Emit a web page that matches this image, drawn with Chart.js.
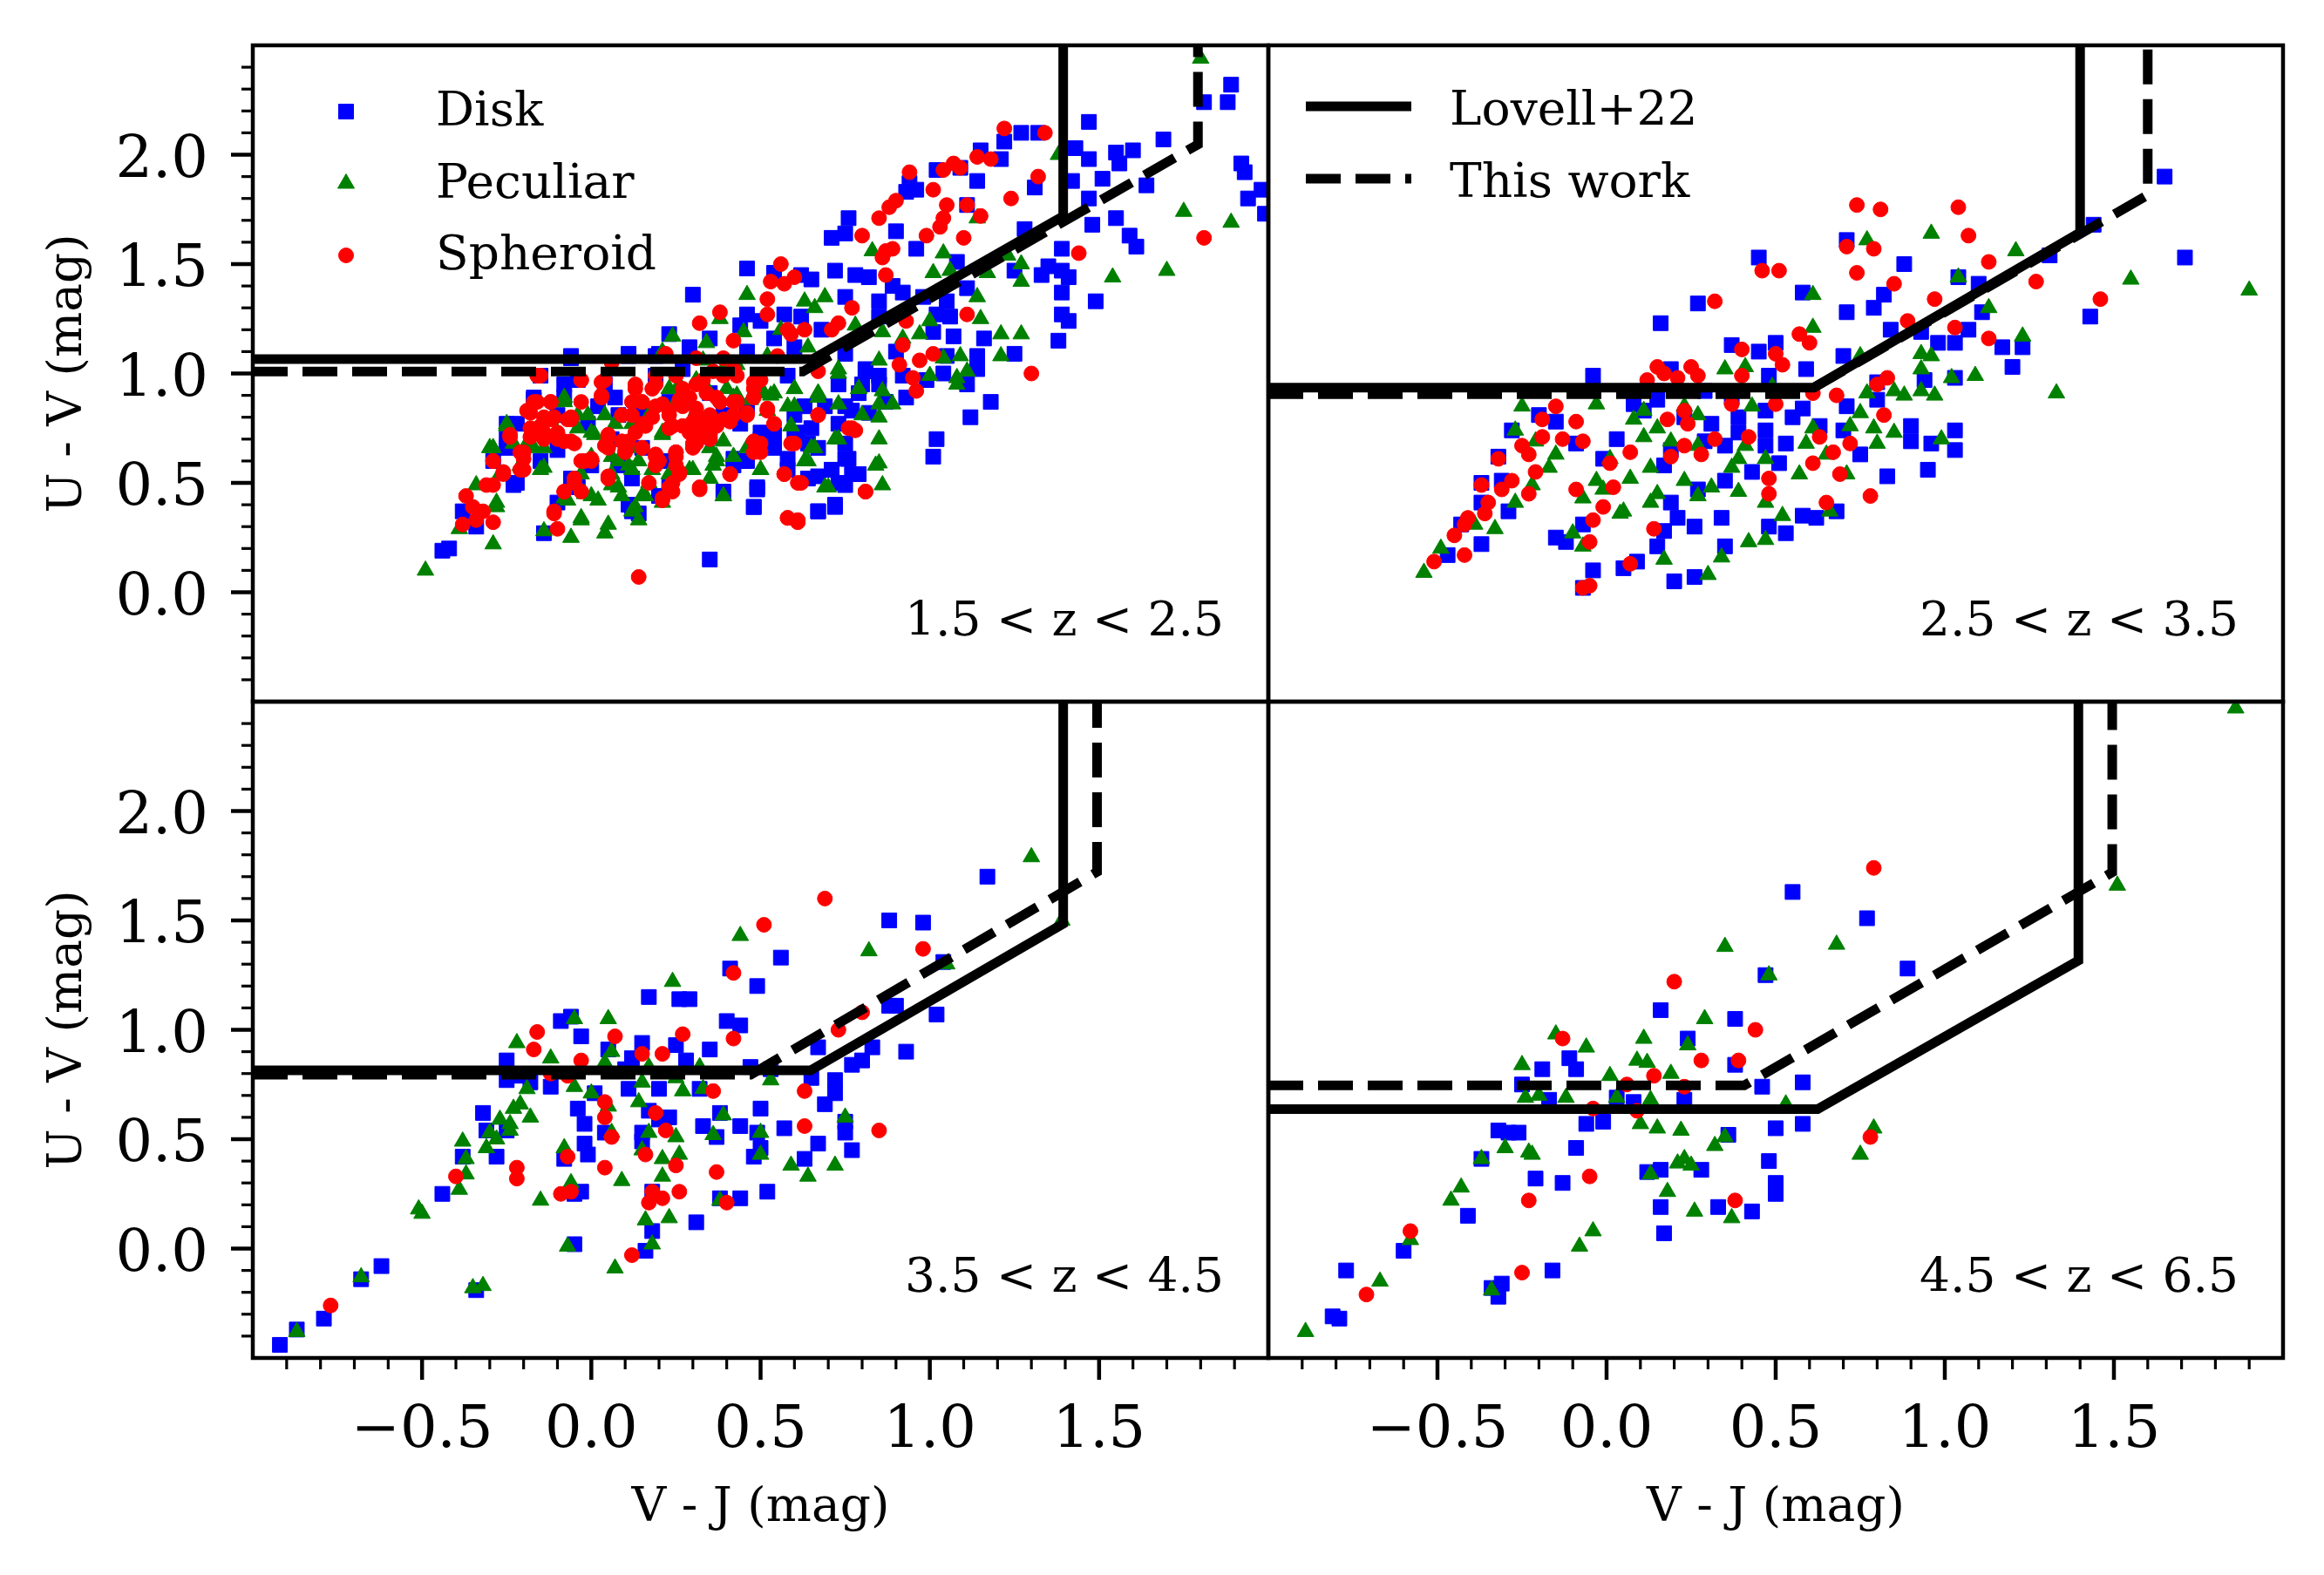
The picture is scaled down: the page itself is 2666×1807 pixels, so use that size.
<!DOCTYPE html>
<html lang="en">
<head>
  <meta charset="UTF-8">
  <title>UVJ diagrams</title>
  <style>
    body { margin: 0; background: #ffffff; }
    #wrap { position: relative; width: 2666px; height: 1807px; }
    #wrap canvas { position: absolute; left: 0; top: 0; }
  </style>
  <script src="https://cdn.jsdelivr.net/npm/chart.js"></script>
</head>
<body>
<div id="wrap">
  <canvas id="c1" width="2666" height="1807"></canvas>
  <canvas id="c2" width="2666" height="1807"></canvas>
  <canvas id="c3" width="2666" height="1807"></canvas>
  <canvas id="c4" width="2666" height="1807"></canvas>
</div>
<script>
// axis ranges shared by all panels
const xRange = [-1, 2];
const yRange = [-0.5, 2.5];
const xMajorLabels = [-0.5, 0.0, 0.5, 1.0, 1.5];
const yMajorLabels = [0.0, 0.5, 1.0, 1.5, 2.0];
const seriesNames = ['Disk', 'Peculiar', 'Spheroid'];
const lineNames = ['Lovell+22', 'This work'];
const zLabels = ['1.5 < z < 2.5', '2.5 < z < 3.5', '3.5 < z < 4.5', '4.5 < z < 6.5'];

// ---- panel 1: 1.5 < z < 2.5 ----
const disk1 = [[1.89,2.32],[1.88,2.24],[1.81,2.24],[1.92,1.96],[1.93,1.92],[1.94,1.80],[1.98,1.84],[1.99,1.73],[1.69,2.07],[1.60,2.02],[1.55,2.01],[1.56,1.96],[1.47,2.15],[1.43,2.03],[1.47,1.98],[1.42,1.88],[1.51,1.89],[1.64,1.86],[1.47,1.80],[1.55,1.71],[1.48,1.68],[1.59,1.63],[1.61,1.58],[1.39,1.57],[1.39,1.47],[1.33,1.45],[1.41,1.44],[1.39,1.37],[1.49,1.33],[1.39,1.27],[1.41,1.24],[1.38,1.15],[1.35,1.49],[1.28,1.66],[1.31,1.85],[1.32,2.10],[1.27,2.10],[1.22,2.06],[1.21,1.98],[1.15,2.02],[1.09,1.94],[1.02,1.93],[1.14,1.88],[0.94,1.87],[0.96,1.84],[0.93,1.83],[1.11,1.77],[0.76,1.71],[0.75,1.64],[0.71,1.62],[0.90,1.65],[0.96,1.57],[1.08,1.51],[1.25,1.47],[0.46,1.48],[0.54,1.46],[0.62,1.45],[0.65,1.43],[0.72,1.47],[0.78,1.45],[0.82,1.44],[0.89,1.40],[0.75,1.35],[0.85,1.33],[0.92,1.37],[0.98,1.35],[1.05,1.33],[1.11,1.39],[0.30,1.36],[0.46,1.27],[0.44,1.22],[0.50,1.24],[0.57,1.27],[0.62,1.26],[0.54,1.16],[0.60,1.12],[0.68,1.20],[0.85,1.26],[1.02,1.27],[1.06,1.26],[1.01,1.19],[1.07,1.17],[1.16,1.16],[1.25,1.09],[1.14,1.08],[1.05,1.08],[0.90,1.10],[0.81,1.02],[0.85,0.99],[0.92,0.99],[0.99,0.97],[1.04,1.00],[1.11,0.95],[1.14,1.02],[1.18,0.87],[1.12,0.80],[1.02,0.70],[1.01,0.62],[0.79,0.91],[0.87,0.87],[0.93,0.89],[0.77,0.83],[0.69,0.85],[0.73,0.77],[0.65,0.75],[0.75,0.68],[0.67,0.66],[0.75,0.61],[0.71,0.56],[0.79,0.54],[0.75,0.49],[0.64,0.52],[0.67,0.37],[0.72,0.39],[0.48,0.39],[0.49,0.47],[0.39,0.46],[0.46,0.60],[0.42,0.58],[0.58,0.56],[0.54,0.66],[0.50,0.70],[0.60,0.71],[0.35,0.15],[-0.44,0.19],[-0.42,0.20],[-0.34,0.30],[-0.38,0.37],[-0.23,0.49],[-0.29,0.60],[-0.15,0.60],[-0.14,0.27],[-0.10,0.41],[-0.04,0.48],[0.00,0.58],[0.12,0.37],[0.20,0.44],[0.23,0.48],[0.12,0.52],[0.08,0.58],[0.23,0.60],[0.15,0.66],[0.06,0.70],[-0.01,0.77],[-0.10,0.81],[-0.17,0.89],[-0.08,0.89],[0.02,0.85],[0.08,0.81],[0.15,0.83],[0.23,0.87],[0.35,0.91],[0.39,0.81],[0.35,0.71],[0.44,0.77],[0.46,0.85],[0.29,1.12],[0.23,1.18],[0.35,1.16],[-0.06,1.08],[0.11,1.09],[0.19,1.08],[0.27,1.02],[0.19,0.99],[0.04,0.95],[-0.04,0.97],[-0.15,0.99],[-0.22,0.77],[-0.25,0.66],[0.50,0.73],[0.60,0.81],[0.58,0.99],
  [-0.06,1.07],[0.11,1.08],[0.20,1.09],[0.46,1.10],[0.75,1.09],[0.73,0.95],[0.81,1.01],[0.80,0.95],[0.85,0.95],[0.75,0.85],[0.82,0.82],[0.63,0.85],[0.61,0.73],[0.64,0.68],[0.58,0.61],[0.76,0.61],[0.71,0.56],[0.77,0.54],[0.73,0.50],[0.67,0.53],[0.72,0.40],[0.67,0.37],[0.49,0.48],[0.48,0.39],[0.42,0.61],[0.45,0.60],[0.52,0.69],[0.54,0.72],[-0.08,0.95],[-0.17,0.88],[-0.25,0.77],[-0.25,0.70],[-0.10,0.65],[-0.22,0.50],[-0.06,0.52],[0.07,0.89],[0.11,0.40],[0.14,0.36]];
const pec1 = [[1.80,2.44],[1.38,2.00],[1.75,1.74],[1.89,1.69],[1.70,1.47],[1.54,1.44],[1.27,1.50],[1.27,1.42],[1.17,1.46],[1.23,1.54],[1.14,1.71],[1.04,1.55],[1.01,1.46],[1.06,1.47],[0.83,1.56],[1.14,1.35],[1.15,1.25],[1.27,1.18],[1.21,1.08],[1.09,1.08],[1.11,1.01],[1.08,0.98],[1.08,0.95],[1.00,0.99],[1.00,1.24],[0.97,1.18],[0.86,1.19],[0.85,1.06],[0.79,0.93],[0.86,0.92],[0.89,0.86],[0.80,0.81],[0.85,0.80],[0.85,0.70],[0.85,0.59],[0.86,0.49],[0.73,0.86],[0.67,0.91],[0.69,1.35],[0.66,1.30],[0.63,1.33],[0.78,1.22],[0.73,1.02],[0.64,1.12],[0.60,0.93],[0.60,0.85],[0.59,0.76],[0.56,1.20],[0.46,1.36],[0.45,1.19],[0.38,1.25],[0.34,1.14],[0.24,1.17],[0.21,1.10],[0.33,1.06],[0.39,1.02],[0.43,1.04],[0.52,1.08],[0.54,0.91],[0.48,0.91],[0.35,0.91],[0.31,0.83],[0.25,0.87],[0.17,0.81],[0.21,0.73],[0.12,0.77],[0.04,0.81],[0.00,0.73],[-0.04,0.81],[-0.08,0.87],[-0.10,0.73],[-0.14,0.66],[-0.19,0.68],[-0.25,0.76],[-0.30,0.66],[-0.21,0.58],[-0.15,0.56],[-0.27,0.54],[-0.34,0.49],[-0.28,0.39],[-0.39,0.29],[-0.29,0.22],[-0.49,0.10],[-0.14,0.28],[-0.06,0.25],[-0.03,0.33],[0.05,0.31],[0.04,0.27],[0.13,0.39],[0.14,0.33],[-0.08,0.43],[0.00,0.44],[0.08,0.48],[0.15,0.44],[0.21,0.41],[0.17,0.50],[0.23,0.54],[0.29,0.56],[0.35,0.52],[0.39,0.44],[0.37,0.60],[0.35,0.66],[0.42,0.62],[0.46,0.66],[0.50,0.56],[0.64,0.60],[0.65,0.66],[0.69,0.48],[0.12,0.66],[0.08,0.60],[0.00,0.62],[0.06,0.54],[-0.03,0.54],[0.73,0.70],[0.52,0.83],[0.42,0.89],[0.31,0.97],[1.04,1.07],[0.92,1.16],[1.21,1.18],
  [-0.08,0.89],[-0.01,0.81],[-0.04,0.75],[-0.25,0.77],[-0.23,0.68],[-0.29,0.66],[-0.17,0.66],[-0.14,0.57],[-0.28,0.41],[0.01,0.72],[0.07,0.77],[0.06,0.62],[0.11,0.58],[0.14,0.60],[0.18,0.56],[0.21,0.72],[0.23,0.93],[0.26,0.95],[0.40,0.93],[0.43,0.90],[0.47,0.88],[0.51,0.91],[0.53,0.90],[0.60,0.93],[0.67,0.89],[0.73,1.00],[0.79,0.93],[0.85,0.86],[0.58,0.85],[0.59,0.76],[0.66,0.66],[0.63,0.60],[0.72,0.70],[0.70,0.48],[0.84,0.58],[0.50,0.56],[0.39,0.69],[0.36,0.58],[0.37,0.62],[0.30,0.56],[0.12,0.56],[0.06,0.49],[0.09,0.44],[-0.02,0.45],[-0.07,0.42],[0.02,0.42],[0.16,0.44],[0.39,0.44],[0.35,0.52],[0.12,0.37],[-0.03,0.34]];
const sph1 = [[1.22,2.12],[1.34,2.10],[1.32,1.90],[1.24,1.80],[1.14,1.99],[1.18,1.98],[1.07,1.96],[1.04,1.93],[1.09,1.94],[0.94,1.92],[1.01,1.84],[1.05,1.77],[1.11,1.77],[1.15,1.72],[1.04,1.71],[1.03,1.67],[0.99,1.63],[1.10,1.62],[0.90,1.79],[0.88,1.76],[0.85,1.71],[0.80,1.63],[0.87,1.56],[0.89,1.57],[0.86,1.53],[0.87,1.45],[0.56,1.50],[0.60,1.44],[0.53,1.42],[0.57,1.41],[1.44,1.55],[1.81,1.62],[0.52,1.34],[0.52,1.27],[0.38,1.28],[0.32,1.23],[0.77,1.30],[1.11,1.27],[0.93,1.24],[0.73,1.23],[0.71,1.20],[0.58,1.20],[0.63,1.20],[0.59,1.18],[0.42,1.15],[0.92,1.13],[0.91,1.04],[0.97,1.06],[1.01,1.09],[1.30,1.00],[0.95,0.98],[0.96,0.92],[0.67,0.81],[0.76,0.75],[0.78,0.74],[0.54,0.77],[0.52,0.83],[0.48,0.89],[0.42,0.87],[0.39,0.79],[0.42,0.81],[0.35,0.77],[0.31,0.81],[0.27,0.85],[0.23,0.81],[0.19,0.85],[0.15,0.87],[0.12,0.81],[0.15,0.77],[0.23,0.75],[0.29,0.73],[0.35,0.70],[0.33,0.97],[0.27,0.93],[0.19,0.95],[0.13,0.93],[0.04,0.97],[-0.03,0.97],[0.03,0.90],[-0.03,0.87],[-0.15,0.99],[-0.12,0.87],[-0.17,0.87],[-0.18,0.82],[-0.15,0.76],[-0.12,0.79],[-0.07,0.79],[-0.14,0.73],[-0.10,0.70],[-0.06,0.69],[-0.18,0.71],[-0.24,0.71],[-0.21,0.64],[-0.20,0.56],[-0.29,0.60],[-0.26,0.54],[-0.31,0.49],[-0.37,0.44],[-0.35,0.39],[-0.32,0.37],[-0.29,0.32],[-0.38,0.31],[-0.34,0.33],[0.05,0.71],[0.05,0.66],[0.10,0.64],[0.15,0.66],[0.19,0.62],[0.25,0.64],[0.31,0.68],[0.35,0.73],[0.19,0.58],[0.25,0.58],[-0.03,0.60],[0.00,0.61],[0.05,0.53],[-0.08,0.46],[-0.05,0.50],[-0.11,0.37],[-0.10,0.29],[0.21,0.43],[0.23,0.48],[0.26,0.54],[0.32,0.47],[0.41,0.54],[0.48,0.64],[0.50,0.68],[0.60,0.68],[0.57,0.54],[0.62,0.50],[0.81,0.46],[0.58,0.34],[0.61,0.32],[0.14,0.07],[0.46,0.81],[0.37,0.89],[0.42,1.02],[0.39,0.99],[0.50,0.97],[0.48,0.93],
  [-0.16,0.99],[-0.03,0.97],[0.03,0.96],[0.03,0.89],[0.06,1.05],[0.22,1.09],[0.31,1.07],[0.36,1.01],[0.39,1.07],[0.55,1.08],[0.19,0.99],[0.25,0.99],[0.43,0.99],[0.48,0.96],[0.67,1.01],[0.13,0.95],[0.18,0.93],[0.31,0.95],[0.34,0.91],[-0.19,0.83],[-0.16,0.87],[-0.12,0.87],[-0.14,0.80],[-0.11,0.80],[-0.06,0.79],[-0.18,0.75],[-0.24,0.72],[-0.14,0.70],[-0.10,0.73],[-0.08,0.69],[-0.05,0.68],[-0.20,0.64],[-0.20,0.61],[-0.29,0.60],[-0.26,0.55],[-0.21,0.56],[-0.29,0.49],[0.09,0.81],[0.12,0.87],[0.15,0.87],[0.18,0.80],[0.21,0.86],[0.23,0.83],[0.26,0.88],[0.29,0.89],[0.31,0.84],[0.35,0.81],[0.38,0.87],[0.43,0.87],[0.46,0.82],[0.41,0.78],[0.37,0.76],[0.33,0.78],[0.30,0.78],[0.27,0.76],[0.24,0.76],[0.16,0.76],[0.13,0.73],[0.11,0.69],[0.05,0.72],[0.04,0.67],[0.09,0.69],[0.10,0.65],[0.15,0.66],[0.19,0.63],[0.20,0.60],[0.25,0.62],[0.25,0.64],[0.30,0.68],[0.30,0.66],[0.32,0.73],[0.35,0.72],[0.52,0.84],[0.54,0.77],[0.48,0.69],[0.50,0.64],[0.59,0.68],[0.67,0.81],[0.77,0.75],[0.81,0.46],[0.57,0.54],[0.61,0.50],[0.41,0.54],[0.32,0.48],[0.26,0.55],[0.24,0.50],[0.24,0.46],[0.21,0.42],[0.17,0.50],[0.05,0.52],[-0.05,0.52],[-0.08,0.46],[-0.03,0.46],[-0.02,0.60],[0.00,0.60],[-0.11,0.36],[0.58,0.34],[0.61,0.33],[-0.06,0.80]];
const lovell1 = [[-1,1.066],[0.654,1.066],[1.394,1.719],[1.394,2.6]];
const thisWork1 = [[-1,1.009],[0.625,1.009],[1.792,2.047],[1.792,2.6]];

// ---- panel 2: 2.5 < z < 3.5 ----
const disk2 = [[1.65,1.90],[1.71,1.53],[1.44,1.68],[1.43,1.26],[1.31,1.54],[0.71,1.61],[0.45,1.53],[0.88,1.50],[0.58,1.37],[0.27,1.32],[0.16,1.23],[0.82,1.36],[0.71,1.28],[0.79,1.30],[1.04,1.44],[1.10,1.41],[1.11,1.28],[1.07,1.20],[1.03,1.14],[0.98,1.14],[0.84,1.20],[0.93,1.19],[1.17,1.12],[1.23,1.12],[1.20,1.03],[1.03,0.98],[0.94,0.97],[0.37,1.13],[0.45,1.10],[0.50,1.14],[-0.04,0.99],[0.19,1.02],[0.59,1.02],[0.70,1.08],[0.48,0.99],[0.80,0.96],[0.71,0.85],[0.80,0.88],[0.08,0.86],[0.15,0.88],[0.58,0.84],[0.55,0.80],[-0.20,0.81],[-0.15,0.78],[-0.28,0.74],[-0.09,0.68],[0.03,0.70],[0.19,0.65],[0.29,0.69],[0.35,0.67],[0.39,0.73],[0.47,0.74],[0.53,0.68],[0.47,0.67],[0.63,0.76],[0.70,0.74],[0.75,0.63],[0.90,0.76],[0.90,0.69],[0.96,0.68],[1.03,0.74],[1.03,0.65],[-0.32,0.62],[-0.37,0.50],[-0.31,0.51],[-0.01,0.61],[0.17,0.58],[0.35,0.51],[0.43,0.55],[0.51,0.59],[0.83,0.53],[0.95,0.56],[0.19,0.41],[0.27,0.47],[-0.37,0.41],[-0.29,0.37],[-0.07,0.31],[0.21,0.34],[0.26,0.30],[0.34,0.34],[0.48,0.30],[0.53,0.27],[0.58,0.35],[0.62,0.34],[0.68,0.37],[0.17,0.28],[0.15,0.21],[0.35,0.21],[-0.15,0.25],[-0.12,0.23],[-0.37,0.22],[-0.43,0.31],[-0.47,0.17],[-0.04,0.10],[0.09,0.14],[0.05,0.11],[0.20,0.05],[0.26,0.07],[-0.07,0.02],[0.11,0.83],[0.23,0.80],[0.31,0.77],[0.39,0.80],[0.47,0.83],[0.37,0.89],[0.29,0.92],[0.15,0.92]];
const pec2 = [[1.90,1.38],[1.55,1.43],[1.21,1.56],[0.96,1.64],[0.77,1.61],[1.04,1.44],[0.61,1.36],[1.13,1.30],[1.23,1.17],[1.33,0.91],[0.61,1.21],[0.75,1.08],[0.93,1.09],[0.96,1.08],[0.93,1.02],[1.02,0.98],[1.09,0.99],[0.97,0.90],[0.85,0.92],[0.88,0.90],[0.93,0.92],[0.77,0.91],[0.75,0.82],[0.72,0.76],[0.79,0.75],[0.85,0.73],[0.80,0.68],[0.99,0.70],[0.61,0.75],[0.59,0.68],[0.65,0.63],[0.71,0.54],[0.57,0.54],[0.66,0.37],[0.52,0.35],[0.47,0.41],[0.39,0.46],[0.31,0.48],[0.27,0.44],[0.23,0.51],[0.15,0.45],[0.13,0.41],[0.05,0.37],[-0.01,0.47],[-0.07,0.43],[-0.03,0.51],[0.07,0.52],[0.13,0.57],[0.01,0.61],[0.11,0.71],[0.15,0.75],[0.08,0.79],[0.11,0.83],[0.23,0.85],[0.27,0.81],[0.19,0.69],[0.27,0.67],[0.39,0.61],[0.37,0.57],[0.47,0.61],[0.41,1.03],[0.35,1.02],[0.49,0.94],[0.43,0.85],[-0.25,0.85],[-0.03,0.86],[-0.27,0.74],[-0.21,0.69],[-0.15,0.63],[-0.17,0.57],[-0.22,0.49],[-0.27,0.41],[-0.33,0.29],[-0.39,0.31],[-0.49,0.20],[-0.54,0.09],[-0.10,0.27],[-0.07,0.21],[0.17,0.15],[0.30,0.08],[0.34,0.16],[0.42,0.23],[0.47,0.24],[0.04,0.36],[0.41,0.67]];
const sph2 = [[0.74,1.77],[0.81,1.75],[1.04,1.76],[1.07,1.63],[0.71,1.58],[0.79,1.57],[1.13,1.51],[0.46,1.47],[0.51,1.47],[0.74,1.46],[0.85,1.41],[1.27,1.42],[0.32,1.33],[1.46,1.34],[0.97,1.34],[0.89,1.24],[1.03,1.21],[0.57,1.18],[0.60,1.14],[1.13,1.16],[0.40,1.11],[0.50,1.09],[0.52,1.04],[0.15,1.03],[0.25,1.03],[0.17,1.00],[0.12,0.97],[0.21,0.98],[0.27,0.99],[0.40,0.99],[0.80,0.95],[0.83,0.98],[0.68,0.90],[0.61,0.91],[0.50,0.86],[0.37,0.86],[0.23,0.83],[0.18,0.79],[0.24,0.77],[-0.15,0.85],[-0.09,0.78],[-0.19,0.79],[-0.19,0.71],[-0.13,0.70],[-0.07,0.69],[-0.25,0.67],[-0.23,0.63],[-0.32,0.61],[-0.21,0.55],[-0.28,0.51],[-0.31,0.47],[-0.23,0.45],[-0.37,0.49],[-0.35,0.41],[-0.36,0.36],[-0.41,0.34],[-0.42,0.31],[-0.45,0.26],[-0.51,0.14],[-0.42,0.17],[0.32,0.70],[0.42,0.71],[0.23,0.67],[0.28,0.63],[0.19,0.62],[0.07,0.64],[0.01,0.59],[0.02,0.48],[-0.09,0.47],[-0.01,0.39],[-0.04,0.33],[-0.05,0.23],[0.14,0.29],[0.07,0.13],[-0.07,0.02],[-0.05,0.03],[0.48,0.52],[0.48,0.45],[0.65,0.41],[0.78,0.44],[0.69,0.54],[0.61,0.59],[0.67,0.64],[0.72,0.68],[0.63,0.71],[0.82,0.81]];
const lovell2 = [[-1,0.935],[0.612,0.935],[1.40,1.644],[1.40,2.6]];
const thisWork2 = [[-1,0.905],[0.58,0.905],[1.60,1.816],[1.60,2.6]];

// ---- panel 3: 3.5 < z < 4.5 ----
const disk3 = [[1.17,1.70],[0.88,1.50],[0.98,1.49],[0.56,1.33],[0.41,1.28],[0.49,1.20],[0.17,1.15],[0.26,1.14],[0.29,1.14],[0.88,1.11],[0.90,1.11],[1.02,1.07],[1.04,1.31],[-0.09,1.04],[-0.06,1.06],[-0.03,0.97],[0.40,1.04],[0.44,1.02],[0.15,0.94],[0.25,0.93],[0.35,0.91],[0.67,0.92],[0.83,0.92],[0.80,0.86],[0.77,0.84],[0.93,0.90],[0.05,0.91],[0.12,0.87],[0.28,0.86],[-0.25,0.86],[0.10,0.82],[0.47,0.83],[0.53,0.82],[0.65,0.78],[0.72,0.77],[0.72,0.71],[0.69,0.66],[-0.25,0.77],[-0.18,0.76],[-0.12,0.74],[-0.21,0.79],[0.01,0.71],[0.11,0.73],[0.20,0.73],[0.32,0.73],[-0.04,0.64],[0.50,0.64],[0.17,0.63],[-0.32,0.62],[0.23,0.60],[0.20,0.59],[-0.02,0.57],[0.33,0.56],[0.38,0.62],[0.44,0.56],[0.57,0.55],[0.75,0.58],[-0.31,0.54],[-0.25,0.54],[0.04,0.53],[0.15,0.53],[0.49,0.53],[0.75,0.53],[0.37,0.51],[-0.02,0.48],[0.15,0.49],[0.67,0.48],[0.50,0.46],[0.77,0.45],[-0.01,0.43],[-0.28,0.42],[-0.38,0.42],[-0.08,0.41],[0.48,0.42],[0.63,0.41],[-0.44,0.25],[-0.03,0.26],[-0.05,0.25],[0.18,0.26],[0.38,0.23],[0.44,0.23],[0.52,0.26],[0.31,0.12],[0.18,0.08],[-0.05,0.02],[0.16,-0.01],[-0.62,-0.08],[-0.68,-0.14],[-0.34,-0.19],[-0.79,-0.32],[-0.87,-0.37],[-0.92,-0.44]];
const pec3 = [[1.30,1.79],[0.44,1.43],[0.82,1.36],[1.05,1.30],[1.39,1.50],[0.24,1.22],[-0.05,1.05],[0.05,1.05],[-0.22,0.94],[-0.12,0.87],[0.06,0.90],[0.04,0.85],[0.17,0.83],[0.32,0.83],[0.15,0.76],[-0.05,0.74],[0.25,0.78],[0.53,0.77],[0.00,0.71],[0.27,0.72],[0.33,0.73],[-0.19,0.73],[-0.21,0.66],[-0.23,0.64],[-0.18,0.60],[-0.27,0.59],[-0.24,0.57],[0.05,0.65],[0.14,0.67],[0.39,0.61],[0.75,0.60],[-0.30,0.53],[-0.24,0.54],[-0.28,0.50],[-0.38,0.49],[-0.31,0.46],[0.17,0.53],[0.25,0.51],[0.36,0.52],[0.50,0.53],[0.06,0.53],[-0.08,0.46],[0.15,0.45],[0.26,0.43],[0.21,0.41],[-0.37,0.41],[0.50,0.43],[0.59,0.38],[0.72,0.38],[0.64,0.33],[-0.37,0.34],[0.21,0.33],[0.09,0.31],[-0.06,0.30],[-0.39,0.27],[-0.15,0.22],[0.38,0.22],[-0.51,0.18],[-0.50,0.16],[0.16,0.13],[0.23,0.14],[0.18,0.02],[-0.07,0.01],[0.07,-0.09],[-0.68,-0.13],[-0.35,-0.18],[-0.32,-0.17],[-0.87,-0.38]];
const sph3 = [[0.69,1.60],[0.51,1.48],[0.98,1.37],[0.42,1.26],[0.80,1.08],[0.73,1.00],[-0.16,0.99],[0.07,0.97],[0.27,0.98],[0.42,0.96],[-0.17,0.91],[0.15,0.89],[0.21,0.89],[-0.03,0.86],[-0.12,0.80],[-0.07,0.79],[0.36,0.72],[0.63,0.72],[0.04,0.67],[0.19,0.62],[0.04,0.60],[0.63,0.56],[0.85,0.54],[0.22,0.54],[0.06,0.51],[0.16,0.43],[-0.07,0.42],[0.25,0.38],[-0.22,0.37],[0.04,0.37],[0.37,0.35],[-0.40,0.33],[-0.22,0.32],[0.26,0.26],[0.18,0.26],[-0.06,0.26],[-0.09,0.25],[0.21,0.23],[0.17,0.21],[0.40,0.21],[0.12,-0.03],[-0.77,-0.26]];
const lovell3 = [[-1,0.815],[0.648,0.815],[1.394,1.485],[1.394,2.6]];
const thisWork3 = [[-1,0.795],[0.471,0.795],[1.494,1.722],[1.494,2.6]];

// ---- panel 4: 4.5 < z < 6.5 ----
const disk4 = [[0.55,1.63],[0.77,1.51],[0.89,1.28],[0.47,1.25],[0.16,1.09],[0.38,1.05],[0.24,0.96],[-0.11,0.87],[-0.09,0.82],[-0.19,0.82],[0.38,0.84],[0.58,0.76],[0.46,0.74],[-0.25,0.75],[0.03,0.69],[0.08,0.67],[0.23,0.68],[-0.17,0.68],[-0.06,0.57],[-0.01,0.58],[0.58,0.57],[0.50,0.55],[0.36,0.52],[-0.32,0.54],[-0.29,0.53],[-0.26,0.53],[-0.09,0.46],[-0.37,0.41],[0.48,0.40],[0.16,0.36],[0.12,0.35],[0.28,0.36],[-0.21,0.32],[-0.13,0.30],[0.50,0.30],[0.50,0.25],[0.16,0.19],[0.33,0.19],[0.43,0.17],[-0.41,0.15],[0.17,0.07],[-0.60,-0.01],[-0.77,-0.10],[-0.16,-0.10],[-0.31,-0.16],[-0.34,-0.18],[-0.32,-0.22],[-0.81,-0.31],[-0.79,-0.32]];
const pec4 = [[1.86,2.47],[1.51,1.66],[0.35,1.38],[0.68,1.39],[0.48,1.25],[0.29,1.05],[-0.15,0.98],[0.11,0.96],[0.24,0.93],[-0.06,0.92],[0.09,0.86],[0.12,0.85],[-0.25,0.84],[0.19,0.80],[0.01,0.79],[-0.24,0.69],[-0.20,0.70],[-0.12,0.69],[0.03,0.69],[0.13,0.68],[0.53,0.66],[0.10,0.57],[0.15,0.55],[0.22,0.54],[0.35,0.51],[0.32,0.47],[0.79,0.55],[0.75,0.43],[-0.30,0.46],[-0.23,0.44],[-0.22,0.43],[-0.37,0.41],[0.21,0.39],[0.23,0.41],[0.25,0.38],[0.13,0.34],[0.18,0.26],[-0.43,0.28],[-0.46,0.22],[0.26,0.17],[0.37,0.14],[-0.04,0.08],[-0.08,0.01],[-0.58,0.04],[-0.67,-0.15],[-0.34,-0.19],[-0.89,-0.38]];
const sph4 = [[0.79,1.74],[0.20,1.22],[0.44,1.00],[-0.13,0.96],[0.28,0.86],[0.39,0.86],[0.14,0.79],[0.06,0.75],[0.23,0.74],[-0.04,0.64],[0.09,0.63],[0.78,0.51],[-0.05,0.33],[0.38,0.22],[-0.23,0.22],[-0.58,0.08],[-0.25,-0.11],[-0.71,-0.21]];
const lovell4 = [[-1,0.637],[0.624,0.637],[1.395,1.317],[1.395,2.6]];
const thisWork4 = [[-1,0.746],[0.407,0.746],[1.495,1.72],[1.495,2.6]];

const W = 2666, H = 1807;
const FONT = '"DejaVu Serif", "Liberation Serif", serif';
const markers = [
  { style: 'rect', radius: 12, color: '#0000ff' },
  { style: 'triangle', radius: 11, color: '#008000' },
  { style: 'circle', radius: 8.5, color: '#ff0000' }
];
const DASH = [40, 17];
const LINE_W = 11;

function fmt(v) {
  return v.toFixed(1).replace('-', '\u2212');
}

// frame, ticks, tick labels, axis titles, redshift label and legends
function makeDecor(p) {
  return {
    id: 'decor',
    afterDatasetsDraw(chart) {
      const ctx = chart.ctx, a = chart.chartArea;
      const xs = chart.scales.x, ys = chart.scales.y;
      ctx.save();
      ctx.strokeStyle = '#000';
      ctx.fillStyle = '#000';
      ctx.lineCap = 'butt';

      ctx.lineWidth = 4.5;
      ctx.strokeRect(a.left, a.top, a.right - a.left, a.bottom - a.top);

      if (p.left) {
        for (let k = -4; k <= 24; k++) {
          const major = k % 5 === 0;
          const py = ys.getPixelForValue(k / 10);
          ctx.lineWidth = major ? 4.5 : 3.2;
          ctx.beginPath();
          ctx.moveTo(a.left, py);
          ctx.lineTo(a.left - (major ? 25 : 13), py);
          ctx.stroke();
        }
        ctx.font = '67px ' + FONT;
        ctx.textAlign = 'right';
        ctx.textBaseline = 'alphabetic';
        yMajorLabels.forEach(v => {
          ctx.fillText(fmt(v), a.left - 51, ys.getPixelForValue(v) + 25);
        });
        ctx.save();
        ctx.font = '55px ' + FONT;
        ctx.textAlign = 'center';
        ctx.translate(93, (a.top + a.bottom) / 2);
        ctx.rotate(-Math.PI / 2);
        ctx.fillText('U - V (mag)', 0, 0);
        ctx.restore();
      }

      if (p.bottom) {
        for (let k = -9; k <= 19; k++) {
          const major = k % 5 === 0;
          const px = xs.getPixelForValue(k / 10);
          ctx.lineWidth = major ? 4.5 : 3.2;
          ctx.beginPath();
          ctx.moveTo(px, a.bottom);
          ctx.lineTo(px, a.bottom + (major ? 25 : 13));
          ctx.stroke();
        }
        ctx.font = '67px ' + FONT;
        ctx.textAlign = 'center';
        ctx.textBaseline = 'alphabetic';
        xMajorLabels.forEach(v => {
          ctx.fillText(fmt(v), xs.getPixelForValue(v), a.bottom + 102);
        });
        ctx.font = '55px ' + FONT;
        ctx.fillText('V - J (mag)', (a.left + a.right) / 2, a.bottom + 187);
      }

      ctx.font = '55px ' + FONT;
      ctx.textAlign = 'right';
      ctx.fillText(p.zText, a.right - 51, a.bottom - 76);

      if (p.markerLegend) {
        ctx.textAlign = 'left';
        seriesNames.forEach((name, i) => {
          const m = markers[i];
          const yy = 128 + i * 82.5;
          ctx.fillStyle = m.color;
          ctx.strokeStyle = m.color;
          ctx.lineWidth = 1;
          Chart.helpers.drawPoint(ctx, { pointStyle: m.style, radius: m.radius, rotation: 0, borderWidth: 1 }, a.left + 107, yy);
          ctx.fillStyle = '#000';
          ctx.fillText(name, a.left + 210, yy + 16);
        });
      }

      if (p.lineLegend) {
        ctx.textAlign = 'left';
        lineNames.forEach((name, i) => {
          const yy = 122 + i * 83;
          ctx.strokeStyle = '#000';
          ctx.lineWidth = LINE_W;
          ctx.setLineDash(i === 0 ? [] : DASH);
          ctx.beginPath();
          ctx.moveTo(a.left + 43, yy);
          ctx.lineTo(a.left + 164, yy);
          ctx.stroke();
          ctx.setLineDash([]);
          ctx.fillStyle = '#000';
          ctx.fillText(name, a.left + 208, yy + 21);
        });
      }
      ctx.restore();
    }
  };
}

function scatterSet(data, i) {
  const m = markers[i];
  return {
    label: seriesNames[i],
    data: data,
    pointStyle: m.style,
    pointRadius: m.radius,
    pointBackgroundColor: m.color,
    pointBorderColor: m.color,
    pointBorderWidth: 1,
    showLine: false,
    clip: 0,
    order: 3 - i
  };
}

function lineSet(data, i) {
  return {
    label: lineNames[i],
    data: data,
    showLine: true,
    borderColor: '#000000',
    borderWidth: LINE_W,
    borderDash: i === 0 ? [] : DASH,
    pointRadius: 0,
    fill: false,
    tension: 0,
    clip: 0,
    order: 0
  };
}

function makePanel(id, box, sets, p) {
  new Chart(document.getElementById(id), {
    type: 'scatter',
    data: {
      datasets: [
        scatterSet(sets.disk, 0),
        scatterSet(sets.pec, 1),
        scatterSet(sets.sph, 2),
        lineSet(sets.lovell, 0),
        lineSet(sets.thisWork, 1)
      ]
    },
    options: {
      responsive: false,
      animation: false,
      devicePixelRatio: 1,
      events: [],
      layout: {
        padding: { left: box.left, top: box.top, right: W - box.right, bottom: H - box.bottom }
      },
      scales: {
        x: { type: 'linear', min: xRange[0], max: xRange[1], display: false },
        y: { type: 'linear', min: yRange[0], max: yRange[1], display: false }
      },
      plugins: { legend: { display: false }, tooltip: { enabled: false } }
    },
    plugins: [makeDecor(p)]
  });
}

const colL = 290, colM = 1455, colR = 2619;
const rowT = 52, rowM = 805, rowB = 1558;

makePanel('c1', { left: colL, top: rowT, right: colM, bottom: rowM },
  { disk: disk1, pec: pec1, sph: sph1, lovell: lovell1, thisWork: thisWork1 },
  { left: true, bottom: false, zText: zLabels[0], markerLegend: true });
makePanel('c2', { left: colM, top: rowT, right: colR, bottom: rowM },
  { disk: disk2, pec: pec2, sph: sph2, lovell: lovell2, thisWork: thisWork2 },
  { left: false, bottom: false, zText: zLabels[1], lineLegend: true });
makePanel('c3', { left: colL, top: rowM, right: colM, bottom: rowB },
  { disk: disk3, pec: pec3, sph: sph3, lovell: lovell3, thisWork: thisWork3 },
  { left: true, bottom: true, zText: zLabels[2] });
makePanel('c4', { left: colM, top: rowM, right: colR, bottom: rowB },
  { disk: disk4, pec: pec4, sph: sph4, lovell: lovell4, thisWork: thisWork4 },
  { left: false, bottom: true, zText: zLabels[3] });
</script>
</body>
</html>
